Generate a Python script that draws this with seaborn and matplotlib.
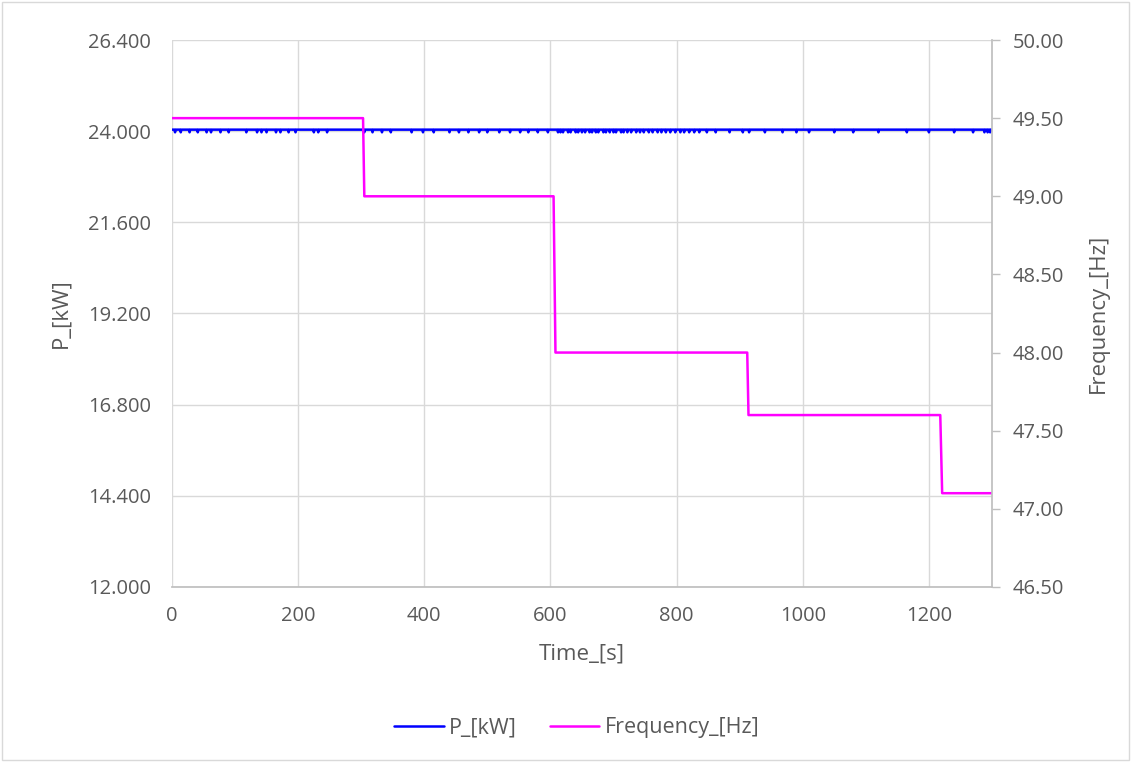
import numpy as np
import pandas as pd
import matplotlib
matplotlib.use("Agg")
import matplotlib.pyplot as plt
import seaborn as sns

# Test record: inverter active power held constant while grid frequency is stepped down
freq_step_times = [0, 303, 305, 605, 608, 912, 914, 1218, 1221, 1300]
freq_step_values = [49.50, 49.50, 49.00, 49.00, 48.00, 48.00, 47.60, 47.60, 47.10, 47.10]

p_base_kw = 24.04
p_dip_kw = 23.97
# seconds at which the logged power briefly dips
p_dip_times = [5, 14, 28, 41, 55, 62, 77, 90, 118, 135, 142, 150, 165, 172,
               185, 196, 225, 232, 246, 305, 318, 333, 347, 380, 398, 415,
               440, 455, 470, 487, 500, 519, 536, 552, 565, 580, 596,
               612, 616, 620, 628, 632, 640, 644, 650, 655, 662, 666, 672,
               676, 684, 688, 694, 700, 704, 712, 716, 722, 728, 736, 742,
               748, 756, 762, 770, 776, 783, 790, 798, 806, 812, 820, 828,
               836, 848, 862, 884, 905, 915, 940, 968, 990, 1010, 1050, 1080,
               1120, 1165, 1200, 1240, 1270, 1288, 1293, 1297]

time_s = np.arange(0, 1301, 1)
p_kw = np.full(time_s.shape, p_base_kw)
p_kw[np.isin(time_s, p_dip_times)] = p_dip_kw

power_df = pd.DataFrame({"Time_[s]": time_s, "P_[kW]": p_kw})
freq_df = pd.DataFrame({"Time_[s]": freq_step_times, "Frequency_[Hz]": freq_step_values})

left_ticks = [12.0, 14.4, 16.8, 19.2, 21.6, 24.0, 26.4]
right_ticks = [46.5, 47.0, 47.5, 48.0, 48.5, 49.0, 49.5, 50.0]
x_ticks = [0, 200, 400, 600, 800, 1000, 1200]

sns.set_theme(style="white")
plt.rcParams["font.family"] = ["Open Sans", "DejaVu Sans"]

text_gray = "#595959"
grid_gray = "#d9d9d9"
axis_gray = "#bfbfbf"

fig = plt.figure(figsize=(11.31, 7.62), dpi=100)
fig.patch.set_facecolor("white")
ax = fig.add_axes([0.152, 0.2297, 0.7251, 0.7178])
ax2 = ax.twinx()

sns.lineplot(data=power_df, x="Time_[s]", y="P_[kW]", ax=ax, color="#0000ff",
             linewidth=2.0, label="P_[kW]", legend=False)
sns.lineplot(data=freq_df, x="Time_[s]", y="Frequency_[Hz]", ax=ax2, color="#ff00ff",
             linewidth=2.8, label="Frequency_[Hz]", legend=False)

ax.set_xlim(0, 1300)
ax.set_ylim(12.0, 26.4)
ax2.set_ylim(46.5, 50.0)
ax.set_xticks(x_ticks)
ax.set_yticks(left_ticks)
ax2.set_yticks(right_ticks)
ax.set_yticklabels([f"{v:.3f}" for v in left_ticks])
ax2.set_yticklabels([f"{v:.2f}" for v in right_ticks])

ax.grid(True, color=grid_gray, linewidth=1.0)
ax.set_axisbelow(True)
for a in (ax, ax2):
    for side in ("top", "left", "right", "bottom"):
        a.spines[side].set_visible(False)
ax2.spines["right"].set_visible(True)
ax2.spines["right"].set_color(axis_gray)
ax.spines["bottom"].set_visible(True)
ax.spines["bottom"].set_color(axis_gray)

ax.tick_params(axis="y", length=0, labelsize=14.5, colors=text_gray, pad=15)
ax.tick_params(axis="x", length=0, labelsize=14.5, colors=text_gray, pad=14)
ax2.tick_params(axis="y", length=6, width=1.0, labelsize=14.5, pad=9,
                colors=axis_gray, labelcolor=text_gray)

ax.set_xlabel("Time_[s]", fontsize=16, color=text_gray, labelpad=12)
ax.set_ylabel("P_[kW]", fontsize=16, color=text_gray, labelpad=12)
ax2.set_ylabel("Frequency_[Hz]", fontsize=16, color=text_gray, labelpad=17)

h1, l1 = ax.get_legend_handles_labels()
h2, l2 = ax2.get_legend_handles_labels()
for h in h1 + h2:
    h.set_linewidth(1.8)
fig.legend(h1 + h2, l1 + l2, loc="center", bbox_to_anchor=(0.51, 0.045), ncol=2,
           frameon=False, fontsize=15.5, labelcolor=text_gray, handlelength=2.3,
           columnspacing=1.5, handletextpad=0.25)

# light chart border
fig.add_artist(plt.Rectangle((0.002, 0.002), 0.996, 0.996, transform=fig.transFigure,
                             fill=False, edgecolor="#d9d9d9", linewidth=1.0))

fig.savefig("out.png", dpi=100, facecolor="white")
